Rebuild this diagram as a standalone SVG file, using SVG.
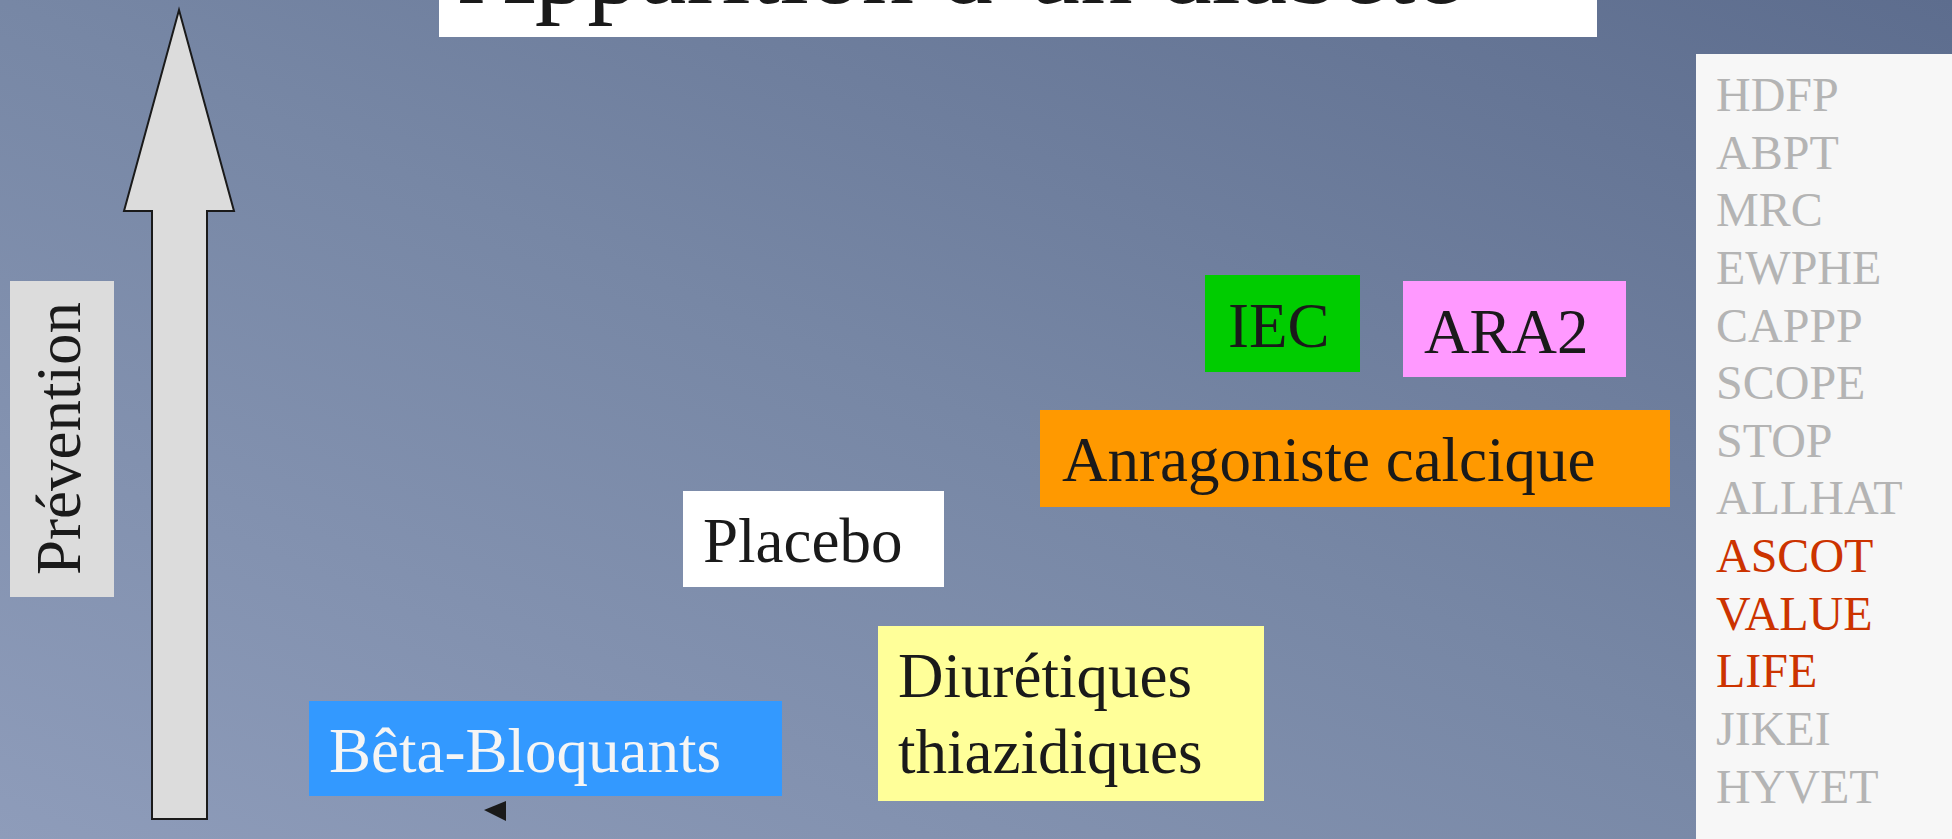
<svg xmlns="http://www.w3.org/2000/svg" width="1952" height="839" viewBox="0 0 1952 839">
<defs>
<linearGradient id="bg" x1="0" y1="1" x2="1" y2="0">
<stop offset="0" stop-color="#8e9cba"/>
<stop offset="0.5" stop-color="#7787a5"/>
<stop offset="1" stop-color="#5d6d8e"/>
</linearGradient>
<style>
text{font-family:"Liberation Serif","Times New Roman",serif;}
.lbl{font-size:63px;fill:#1a1a1a;}
.trial{font-size:48px;fill:#b4b4b4;}
.trial.hl{fill:#cc3300;}
</style>
</defs>
<rect x="0" y="0" width="1952" height="839" fill="url(#bg)"/>

<g id="title">
<rect x="439" y="-10" width="1158" height="47" fill="#ffffff"/>
<text x="459" y="3" font-size="105" fill="#1a1a1a">Apparition d’un diabète</text>
</g>

<g id="prevention-arrow">
<polygon points="179,10 234,211 207,211 207,819 152,819 152,211 124,211" fill="#dcdcdc" stroke="#1a1a1a" stroke-width="2" stroke-linejoin="miter"/>
</g>

<g id="prevention">
<rect x="10" y="281" width="104" height="316" fill="#dcdcdc"/>
<text class="lbl" transform="translate(80,575) rotate(-90)">Prévention</text>
</g>

<g id="beta-bloquants">
<rect x="309" y="701" width="473" height="95" fill="#3399ff"/>
<text class="lbl" x="329" y="772" style="fill:#f5f5f5">Bêta-Bloquants</text>
</g>

<g id="placebo">
<rect x="683" y="491" width="261" height="96" fill="#ffffff"/>
<text class="lbl" x="703" y="562">Placebo</text>
</g>

<g id="diuretiques">
<rect x="878" y="626" width="386" height="175" fill="#ffff99"/>
<text class="lbl" x="898" y="697">Diurétiques</text>
<text class="lbl" x="898" y="773">thiazidiques</text>
</g>

<g id="anragoniste">
<rect x="1040" y="410" width="630" height="97" fill="#ff9900"/>
<text class="lbl" x="1062" y="481">Anragoniste calcique</text>
</g>

<g id="iec">
<rect x="1205" y="275" width="155" height="97" fill="#00cc00"/>
<text class="lbl" x="1228" y="347">IEC</text>
</g>

<g id="ara2">
<rect x="1403" y="281" width="223" height="96" fill="#ff99ff"/>
<text class="lbl" x="1424" y="353">ARA2</text>
</g>

<g id="trials">
<rect x="1696" y="54" width="270" height="800" fill="#f7f7f7"/>
<text class="trial" x="1716" y="111">HDFP</text>
<text class="trial" x="1716" y="169">ABPT</text>
<text class="trial" x="1716" y="226">MRC</text>
<text class="trial" x="1716" y="284">EWPHE</text>
<text class="trial" x="1716" y="342">CAPPP</text>
<text class="trial" x="1716" y="399">SCOPE</text>
<text class="trial" x="1716" y="457">STOP</text>
<text class="trial" x="1716" y="514">ALLHAT</text>
<text class="trial hl" x="1716" y="572">ASCOT</text>
<text class="trial hl" x="1716" y="630">VALUE</text>
<text class="trial hl" x="1716" y="687">LIFE</text>
<text class="trial" x="1716" y="745">JIKEI</text>
<text class="trial" x="1716" y="803">HYVET</text>
</g>

<g id="connectors">
<polygon points="484,810 506,801 506,821" fill="#1a1a1a"/>
</g>
</svg>
